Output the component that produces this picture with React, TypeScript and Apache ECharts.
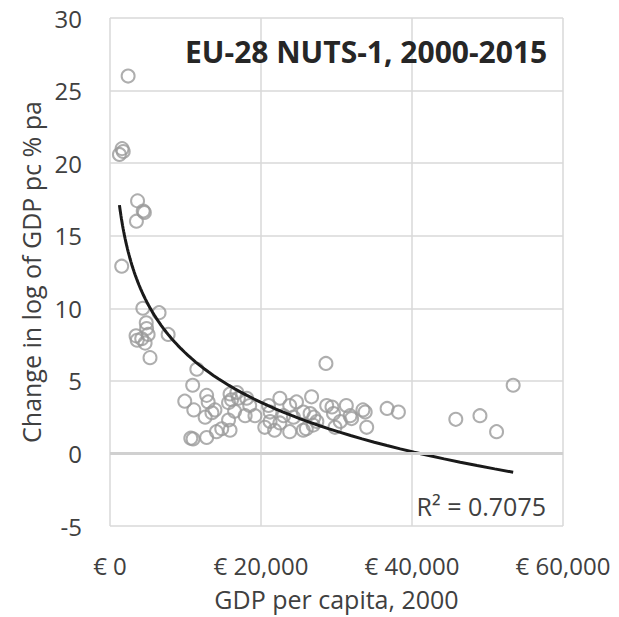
import React, { useEffect, useRef } from "react";
import * as echarts from "echarts";

const chartTitle = "EU-28 NUTS-1, 2000-2015";
const xAxisName = "GDP per capita, 2000";
const yAxisName = "Change in log of GDP pc % pa";
const rSquaredLabel = "R² = 0.7075";
const xTicks = [0, 20000, 40000, 60000];
const yTicks = [-5, 0, 5, 10, 15, 20, 25, 30];

// GDP per capita in 2000 (EUR)
const gdpPerCapita2000 = [
  2400, 1600, 1750, 1250, 3650, 4400, 4550, 3500, 1550, 4350,
  6500, 7700, 3450, 4200, 4850, 5050, 4650, 3600, 4800, 5300,
  11500, 10950, 9900, 11100, 12600, 12800, 13000, 13900, 15900, 16100,
  16800, 17000, 15700, 17900, 19200, 18500, 14800, 14100, 12800, 11000,
  10700, 15900, 15700, 18100, 13500, 16500,
  21200, 21000, 21200, 22500, 23800, 24700, 24300, 23800, 21800, 26500,
  26000, 27400, 26700, 28600, 29400, 29600, 29800, 31300, 31800, 32000,
  33500, 33800, 34000, 36700, 38200, 25600, 25600, 26900, 28700, 22500,
  20500, 23000, 27000, 30500,
  45800, 49000, 51200, 53400,
];

// Change in log of GDP per capita, % per annum, 2000-2015
const growthPctPa = [
  26.0, 21.0, 20.8, 20.6, 17.4, 16.7, 16.6, 16.0, 12.9, 10.0,
  9.7, 8.2, 8.1, 7.9, 8.6, 8.2, 7.6, 7.8, 9.0, 6.6,
  5.8, 4.7, 3.6, 3.0, 2.5, 4.0, 3.55, 3.0, 4.1, 3.7,
  4.2, 3.8, 2.3, 2.6, 2.6, 3.3, 1.7, 1.5, 1.1, 1.0,
  1.05, 1.6, 3.5, 3.8, 2.8, 2.9,
  2.2, 3.3, 2.85, 3.8, 3.3, 3.55, 2.5, 1.5, 1.6, 2.75,
  1.7, 2.2, 3.9, 6.2, 3.2, 2.75, 1.8, 3.3, 2.6, 2.4,
  3.0, 2.85, 1.8, 3.1, 2.85, 2.85, 1.6, 1.95, 3.3, 2.1,
  1.8, 2.6, 2.5, 2.2,
  2.35, 2.6, 1.5, 4.7,
];

function fitLog(xs: number[], ys: number[]) {
  const n = xs.length;
  let sx = 0, sy = 0, sxx = 0, sxy = 0;
  for (let i = 0; i < n; i++) {
    const lx = Math.log(xs[i]);
    sx += lx; sy += ys[i]; sxx += lx * lx; sxy += lx * ys[i];
  }
  const a = (n * sxy - sx * sy) / (n * sxx - sx * sx);
  const b = (sy - a * sx) / n;
  return { a, b };
}

export default function App() {
  const ref = useRef<HTMLDivElement>(null);
  useEffect(() => {
    if (!ref.current) return;
    const chart = echarts.init(ref.current, undefined, { renderer: "svg" });
    const points = gdpPerCapita2000.map((x, i) => [x, growthPctPa[i]]);
    const { a, b } = fitLog(gdpPerCapita2000, growthPctPa);
    const xMin = Math.min(...gdpPerCapita2000);
    const xMax = Math.max(...gdpPerCapita2000);
    const steps = 80;
    const trend: number[][] = [];
    for (let i = 0; i <= steps; i++) {
      const x = xMin * Math.pow(xMax / xMin, i / steps);
      trend.push([x, a * Math.log(x) + b]);
    }
    const font = "'Open Sans', Lato, sans-serif";
    chart.setOption({
      animation: false,
      backgroundColor: "#ffffff",
      textStyle: { fontFamily: font },
      grid: { left: 110, right: 56, top: 18, bottom: 91 },
      title: {
        text: chartTitle,
        left: 180,
        top: 31,
        textStyle: { fontFamily: font, fontSize: 30, fontWeight: "bold", color: "#262626" },
      },
      graphic: [
        {
          type: "text",
          right: 73,
          top: 493,
          style: { text: rSquaredLabel, fontFamily: font, fontSize: 25, fill: "#404040" },
        },
      ],
      xAxis: {
        type: "value",
        min: xTicks[0],
        max: xTicks[xTicks.length - 1],
        interval: xTicks[1] - xTicks[0],
        name: xAxisName,
        nameLocation: "middle",
        nameGap: 60,
        nameTextStyle: { fontFamily: font, fontSize: 25, color: "#404040" },
        axisLine: { show: false },
        axisTick: { show: false },
        axisLabel: {
          fontFamily: font,
          fontSize: 24,
          color: "#404040",
          margin: 27,
          formatter: (v: number) => "€ " + v.toLocaleString("en-US"),
        },
        splitLine: { show: true, lineStyle: { color: "#d9d9d9", width: 1.5 } },
      },
      yAxis: {
        type: "value",
        min: yTicks[0],
        max: yTicks[yTicks.length - 1],
        interval: 5,
        name: yAxisName,
        nameLocation: "middle",
        nameGap: 66,
        nameTextStyle: { fontFamily: font, fontSize: 25, color: "#404040" },
        axisLine: { show: false },
        axisTick: { show: false },
        axisLabel: { fontFamily: font, fontSize: 24, color: "#404040", margin: 28 },
        splitLine: { show: true, lineStyle: { color: "#d9d9d9", width: 1.5 } },
      },
      series: [
        {
          type: "scatter",
          data: points,
          symbol: "circle",
          symbolSize: 13,
          itemStyle: { color: "rgba(255,255,255,0)", borderColor: "#9a9a9a", borderWidth: 2 },
          markLine: {
            silent: true,
            symbol: ["none", "none"],
            label: { show: false },
            lineStyle: { color: "#d0d0d0", width: 3, type: "solid" },
            data: [{ yAxis: 0 }],
          },
          z: 2,
        },
        {
          type: "line",
          data: trend,
          showSymbol: false,
          symbol: "none",
          lineStyle: { color: "#1a1a1a", width: 3 },
          z: 3,
        },
      ],
    });
    return () => chart.dispose();
  }, []);
  return (
    <div
      ref={ref}
      style={{ position: "absolute", left: 0, top: 0, width: 619, height: 617 }}
    />
  );
}
